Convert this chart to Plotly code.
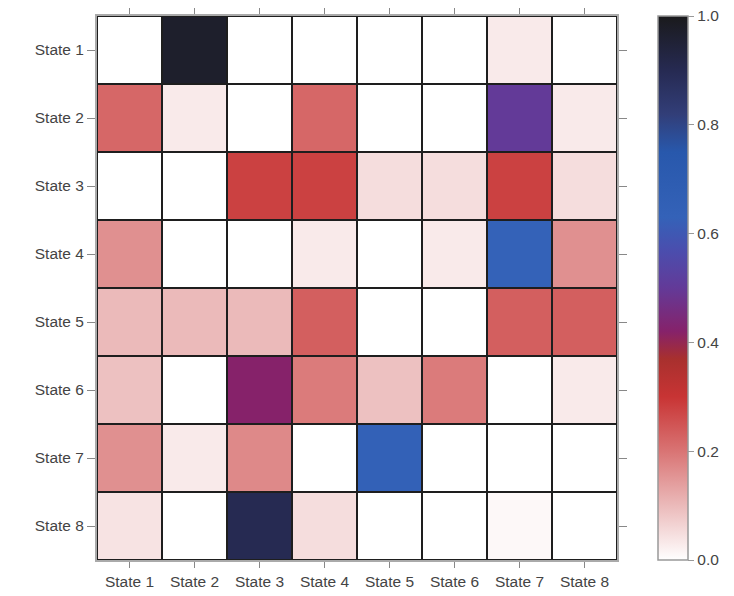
import plotly.graph_objects as go

states = ["State 1", "State 2", "State 3", "State 4", "State 5", "State 6", "State 7", "State 8"]

row1 = [0.00, 0.97, 0.00, 0.00, 0.00, 0.00, 0.03, 0.00]
row2 = [0.22, 0.03, 0.00, 0.22, 0.00, 0.00, 0.50, 0.03]
row3 = [0.00, 0.00, 0.28, 0.28, 0.05, 0.05, 0.28, 0.05]
row4 = [0.16, 0.00, 0.00, 0.03, 0.00, 0.03, 0.63, 0.16]
row5 = [0.10, 0.10, 0.10, 0.233, 0.00, 0.00, 0.233, 0.233]
row6 = [0.09, 0.00, 0.42, 0.19, 0.09, 0.19, 0.00, 0.03]
row7 = [0.16, 0.03, 0.17, 0.00, 0.64, 0.00, 0.00, 0.00]
row8 = [0.04, 0.00, 0.90, 0.05, 0.00, 0.00, 0.01, 0.00]

z = [row1, row2, row3, row4, row5, row6, row7, row8]

cbar_ticks = [0.0, 0.2, 0.4, 0.6, 0.8, 1.0]
cbar_labels = ["0.0", "0.2", "0.4", "0.6", "0.8", "1.0"]

colorscale = [
    [0.00, "#ffffff"],
    [0.10, "#ebbaba"],
    [0.20, "#d97474"],
    [0.30, "#c83434"],
    [0.37, "#a8302e"],
    [0.42, "#86226a"],
    [0.50, "#633a98"],
    [0.57, "#4a4eae"],
    [0.63, "#3462b8"],
    [0.75, "#2858ac"],
    [0.82, "#323e78"],
    [0.90, "#262a52"],
    [1.00, "#1a1a1c"],
]

FONT = "Liberation Sans, Arial, sans-serif"

fig = go.Figure(
    go.Heatmap(
        z=z,
        x=states,
        y=states,
        zmin=0,
        zmax=1,
        colorscale=colorscale,
        xgap=2,
        ygap=2,
        colorbar=dict(
            x=1.079,
            xanchor="left",
            xpad=0,
            y=0.5,
            yanchor="middle",
            len=1,
            lenmode="fraction",
            ypad=0,
            thickness=30,
            thicknessmode="pixels",
            outlinecolor="#999999",
            outlinewidth=1.5,
            tickmode="array",
            tickvals=cbar_ticks,
            ticktext=cbar_labels,
            ticklabeloverflow="allow",
            ticks="outside",
            ticklen=6,
            tickcolor="#999999",
            tickfont=dict(family=FONT, size=15.5, color="#444444"),
        ),
    )
)

fig.update_xaxes(
    type="category",
    showgrid=False,
    zeroline=False,
    showline=True,
    linecolor="#aaaaaa",
    linewidth=2,
    mirror="ticks",
    ticks="outside",
    ticklen=6,
    tickcolor="#888888",
    tickfont=dict(family=FONT, size=15.5, color="#444444"),
)
fig.update_yaxes(
    type="category",
    autorange="reversed",
    showgrid=False,
    zeroline=False,
    showline=True,
    linecolor="#aaaaaa",
    linewidth=2,
    mirror="ticks",
    ticks="outside",
    ticklen=8,
    tickcolor="#888888",
    tickfont=dict(family=FONT, size=15.5, color="#444444"),
)

fig.update_layout(
    width=734,
    height=596,
    margin=dict(l=89, r=125, t=8, b=44, autoexpand=False),
    plot_bgcolor="#1e1e1e",
    paper_bgcolor="#ffffff",
    showlegend=False,
)

fig.write_html("out.html")
